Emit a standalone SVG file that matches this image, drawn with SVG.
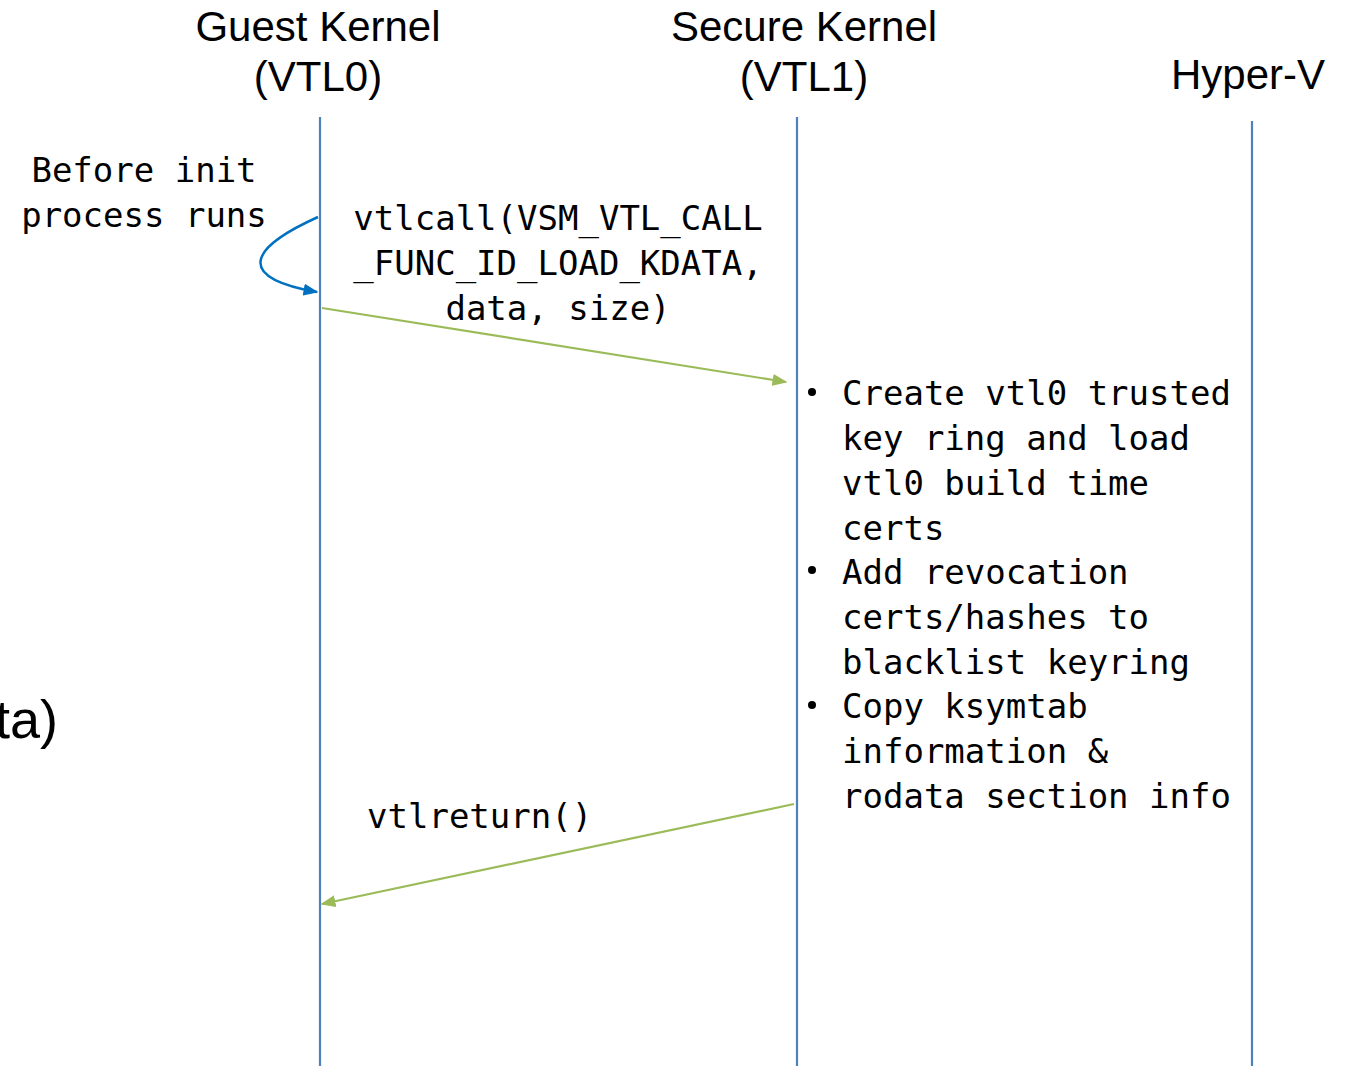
<svg xmlns="http://www.w3.org/2000/svg" width="1352" height="1066" viewBox="0 0 1352 1066">
<style>
.title{font-family:"Liberation Sans",Arial,sans-serif;font-size:42px;fill:#000;text-anchor:middle}
.mono{font-family:"DejaVu Sans Mono","Liberation Mono",monospace;font-size:34px;fill:#000}
.life{stroke:#4f81bd;stroke-width:2.2;fill:none}
.msg{stroke:#9bbb59;stroke-width:2.2;fill:none}
</style>
<defs>
<marker id="ag" viewBox="0 0 10 10" refX="9" refY="5" markerWidth="15" markerHeight="12" markerUnits="userSpaceOnUse" orient="auto" preserveAspectRatio="none">
<path d="M0,0 L10,5 L0,10 z" fill="#9bbb59"/>
</marker>
<marker id="ab" viewBox="0 0 10 10" refX="9" refY="5" markerWidth="15" markerHeight="12" markerUnits="userSpaceOnUse" orient="auto" preserveAspectRatio="none">
<path d="M0,0 L10,5 L0,10 z" fill="#0070c0"/>
</marker>
</defs>
<rect width="1352" height="1066" fill="#fff"/>
<g id="guest">
<text class="title" x="318" y="41">Guest Kernel</text>
<text class="title" x="318" y="91">(VTL0)</text>
<line class="life" x1="320" y1="117" x2="320" y2="1066"/>
</g>
<g id="secure">
<text class="title" x="804" y="41">Secure Kernel</text>
<text class="title" x="804" y="91">(VTL1)</text>
<line class="life" x1="797" y1="117" x2="797" y2="1066"/>
</g>
<g id="hyperv">
<text class="title" x="1248" y="89">Hyper-V</text>
<line class="life" x1="1252" y1="121" x2="1252" y2="1066"/>
</g>
<g id="fragment">
<text x="58" y="738" style="font-family:'Liberation Sans',Arial,sans-serif;font-size:54px;text-anchor:end">ta)</text>
</g>
<g id="note-before">
<text class="mono" x="144" y="182" text-anchor="middle">Before init</text>
<text class="mono" x="144" y="227" text-anchor="middle">process runs</text>
</g>
<g id="note-vtlcall">
<text class="mono" x="558" y="230" text-anchor="middle">vtlcall(VSM_VTL_CALL</text>
<text class="mono" x="558" y="275" text-anchor="middle">_FUNC_ID_LOAD_KDATA,</text>
<text class="mono" x="558" y="320" text-anchor="middle">data, size)</text>
</g>
<g id="note-vtlreturn">
<text class="mono" x="367" y="828">vtlreturn()</text>
</g>
<g id="note-actions">
<circle cx="812" cy="392" r="4" fill="#000"/>
<circle cx="812" cy="570" r="4" fill="#000"/>
<circle cx="812" cy="705" r="4" fill="#000"/>
<text class="mono" x="842" y="405">Create vtl0 trusted</text>
<text class="mono" x="842" y="450">key ring and load</text>
<text class="mono" x="842" y="495">vtl0 build time</text>
<text class="mono" x="842" y="540">certs</text>
<text class="mono" x="842" y="584">Add revocation</text>
<text class="mono" x="842" y="629">certs/hashes to</text>
<text class="mono" x="842" y="674">blacklist keyring</text>
<text class="mono" x="842" y="718">Copy ksymtab</text>
<text class="mono" x="842" y="763">information &amp;</text>
<text class="mono" x="842" y="808">rodata section info</text>
</g>
<g id="connectors">
<path d="M318,217 C245,250 238,278 317,292" stroke="#0070c0" stroke-width="2.5" fill="none" marker-end="url(#ab)"/>
<line class="msg" x1="322" y1="308" x2="786" y2="382" marker-end="url(#ag)"/>
<line class="msg" x1="794" y1="804" x2="322" y2="904" marker-end="url(#ag)"/>
</g>
</svg>
